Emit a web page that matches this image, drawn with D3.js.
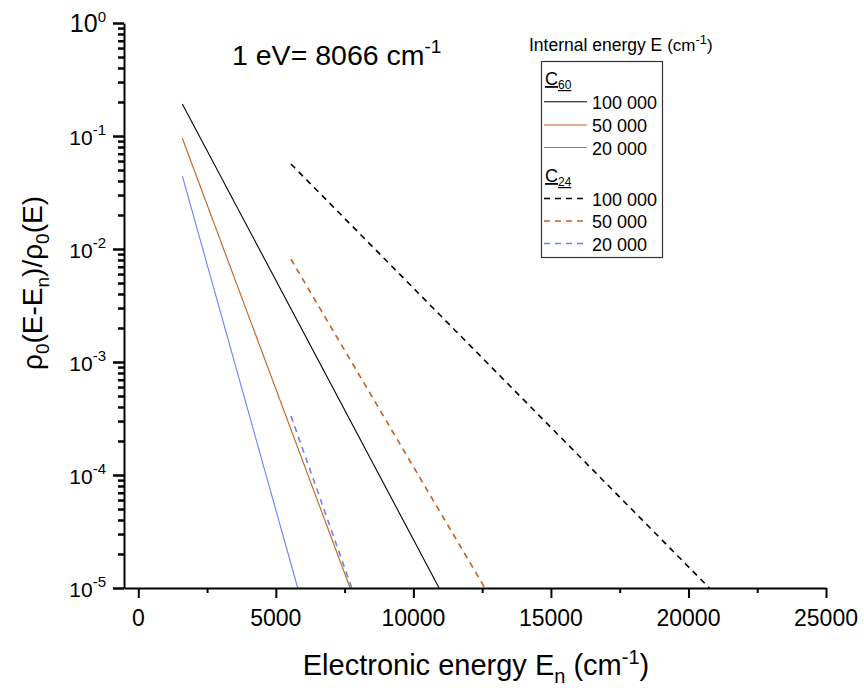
<!DOCTYPE html>
<html>
<head>
<meta charset="utf-8">
<script src="https://cdn.jsdelivr.net/npm/d3@7/dist/d3.min.js"></script>
<style>
  html, body { margin: 0; padding: 0; background: #fff; }
  svg { display: block; font-family: "Liberation Sans", Arial, sans-serif; }
</style>
</head>
<body>
<svg id="chart" width="864" height="688"></svg>
<script>
// Electronic energy E_n (cm^-1) at each line's two ends
const c60Energy100k = [1600, 10935];
const c60Energy50k = [1600, 7700];
const c60Energy20k = [1600, 5795];
const c24Energy100k = [5550, 20760];
const c24Energy50k = [5550, 12600];
const c24Energy20k = [5550, 7760];

// ρ0(E-En)/ρ0(E) at those ends
const c60Ratio100k = [0.192, 1e-5];
const c60Ratio50k = [0.0954, 1e-5];
const c60Ratio20k = [0.0443, 1e-5];
const c24Ratio100k = [0.0565, 1e-5];
const c24Ratio50k = [0.00811, 1e-5];
const c24Ratio20k = [3.33e-4, 1e-5];

const internalEnergies = ["100 000", "50 000", "20 000"];
const xTickValues = [0, 5000, 10000, 15000, 20000, 25000];
const xMinorValues = [2500, 7500, 12500, 17500, 22500];
const yExponents = [0, -1, -2, -3, -4, -5];

const colors = ["#000000", "#c2611c", "#6a80ff"];

const series = [
  { e: c60Energy100k, r: c60Ratio100k, c: 0, dashed: false },
  { e: c60Energy50k, r: c60Ratio50k, c: 1, dashed: false },
  { e: c60Energy20k, r: c60Ratio20k, c: 2, dashed: false },
  { e: c24Energy100k, r: c24Ratio100k, c: 0, dashed: true },
  { e: c24Energy50k, r: c24Ratio50k, c: 1, dashed: true },
  { e: c24Energy20k, r: c24Ratio20k, c: 2, dashed: true }
];

const svg = d3.select("#chart");

const x = d3.scaleLinear().domain([-520, 25000]).range([124, 826]);
const y = d3.scaleLog().domain([1e-5, 1]).range([588, 23]);

// minor y ticks: 2..9 within each decade
const yMinor = [];
for (let p = -5; p < 0; p++) for (let m = 2; m <= 9; m++) yMinor.push(m * Math.pow(10, p));
const yMajor = yExponents.map(p => Math.pow(10, p));

// curves (drawn first so the axes sit on top)
const line = d3.line().x(d => x(d[0])).y(d => y(d[1]));
svg.append("g").selectAll("path").data(series).join("path")
  .attr("d", s => line(s.e.map((e, i) => [e, s.r[i]])))
  .attr("fill", "none")
  .attr("stroke", s => colors[s.c])
  .attr("stroke-width", s => s.dashed ? 1.6 : 1.1)
  .attr("stroke-dasharray", s => s.dashed ? "6,5" : null);

// axes: major and minor ticks drawn as separate axis calls
const x0 = x.range()[0], y0 = y.range()[0];
const xMinorG = svg.append("g").attr("transform", `translate(0,${y0})`)
  .call(d3.axisBottom(x).tickValues(xMinorValues).tickSize(5).tickFormat(() => "").tickSizeOuter(0));
const xMajorG = svg.append("g").attr("transform", `translate(0,${y0})`)
  .call(d3.axisBottom(x).tickValues(xTickValues).tickSize(10).tickFormat(() => "").tickSizeOuter(0));
const yMinorG = svg.append("g").attr("transform", `translate(${x0},0)`)
  .call(d3.axisLeft(y).tickValues(yMinor).tickSize(6).tickFormat(() => "").tickSizeOuter(0));
const yMajorG = svg.append("g").attr("transform", `translate(${x0},0)`)
  .call(d3.axisLeft(y).tickValues(yMajor).tickSize(11).tickFormat(() => "").tickSizeOuter(0));

yMinorG.select(".domain").remove();
xMinorG.select(".domain").remove();
svg.selectAll(".domain").attr("stroke", "#000").attr("stroke-width", 2);
svg.selectAll(".tick line").attr("stroke", "#000").attr("stroke-width", 2);

// y tick comb as one path built from the same scale
const comb = d3.path();
yMajor.forEach(v => { const yy = Math.round(y(v)) + 0.5; comb.moveTo(x0, yy); comb.lineTo(x0 - 11, yy); });
yMinor.forEach(v => { const yy = Math.round(y(v)) + 0.5; comb.moveTo(x0, yy); comb.lineTo(x0 - 6, yy); });
svg.append("path").attr("d", comb.toString()).attr("fill", "none")
  .attr("stroke", "#000").attr("stroke-width", 2);

// x tick labels
svg.append("g").selectAll("text").data(xTickValues).join("text")
  .attr("x", d => x(d)).attr("y", 626)
  .attr("text-anchor", "middle").attr("font-size", 23).attr("fill", "#000")
  .text(d => d);

// y tick labels with superscript exponents
svg.append("g").selectAll("text").data(yExponents).join("text")
  .attr("x", 106).attr("y", d => y(Math.pow(10, d)) + 9)
  .attr("text-anchor", "end").attr("fill", "#000")
  .attr("font-size", d => d === 0 ? 25 : 21)
  .each(function (d) {
    const t = d3.select(this);
    t.append("tspan").text("10");
    t.append("tspan").attr("dy", -10).attr("font-size", 15).text(d === 0 ? "0" : "-" + (-d));
  });

// axis titles
const xTitle = svg.append("text").attr("x", 476).attr("y", 675)
  .attr("text-anchor", "middle").attr("font-size", 29).attr("fill", "#000");
xTitle.append("tspan").text("Electronic energy E");
xTitle.append("tspan").attr("dy", 8).attr("font-size", 20).text("n");
xTitle.append("tspan").attr("dy", -8).text(" (cm");
xTitle.append("tspan").attr("dy", -11).attr("font-size", 20).text("-1");
xTitle.append("tspan").attr("dy", 11).text(")");

const yTitle = svg.append("text").attr("transform", "translate(42,283) rotate(-90)")
  .attr("text-anchor", "middle").attr("font-size", 28).attr("fill", "#000");
yTitle.append("tspan").text("ρ");
yTitle.append("tspan").attr("dy", 7).attr("font-size", 19).text("0");
yTitle.append("tspan").attr("dy", -7).text("(E-E");
yTitle.append("tspan").attr("dy", 7).attr("font-size", 19).text("n");
yTitle.append("tspan").attr("dy", -7).text(")/ρ");
yTitle.append("tspan").attr("dy", 7).attr("font-size", 19).text("0");
yTitle.append("tspan").attr("dy", -7).text("(E)");

// conversion note
const note = svg.append("text").attr("x", 232).attr("y", 65).attr("font-size", 28.5).attr("fill", "#000");
note.append("tspan").text("1 eV= 8066 cm");
note.append("tspan").attr("dy", -12).attr("font-size", 19).text("-1");

// legend
const leg = svg.append("g");
const legTitle = leg.append("text").attr("x", 529).attr("y", 51).attr("font-size", 17.5).attr("fill", "#000");
legTitle.append("tspan").text("Internal energy E ");
legTitle.append("tspan").attr("font-size", 17).text("(cm");
legTitle.append("tspan").attr("dy", -7).attr("font-size", 13).text("-1");
legTitle.append("tspan").attr("dy", 7).attr("font-size", 17).text(")");

leg.append("rect").attr("x", 541.5).attr("y", 61.5).attr("width", 121).attr("height", 196)
  .attr("fill", "none").attr("stroke", "#333").attr("stroke-width", 1.2);

const groups = [
  { name: "C", sub: "60", y: 85, rows: [101.7, 125, 147.5], dashed: false },
  { name: "C", sub: "24", y: 182, rows: [198.5, 221, 243.5], dashed: true }
];
groups.forEach(g => {
  const h = leg.append("text").attr("x", 545).attr("y", g.y).attr("font-size", 18)
    .attr("fill", "#000").attr("text-decoration", "underline");
  h.append("tspan").text(g.name);
  h.append("tspan").attr("dy", 4).attr("font-size", 12).text(g.sub);
  g.rows.forEach((ry, i) => {
    leg.append("line").attr("x1", 544).attr("x2", 587).attr("y1", ry).attr("y2", ry)
      .attr("stroke", colors[i]).attr("stroke-width", g.dashed ? 1.6 : 1.1)
      .attr("stroke-dasharray", g.dashed ? "6,5" : null);
    leg.append("text").attr("x", 592).attr("y", ry + 7).attr("font-size", 18).attr("fill", "#000")
      .text(internalEnergies[i]);
  });
});
</script>
</body>
</html>
